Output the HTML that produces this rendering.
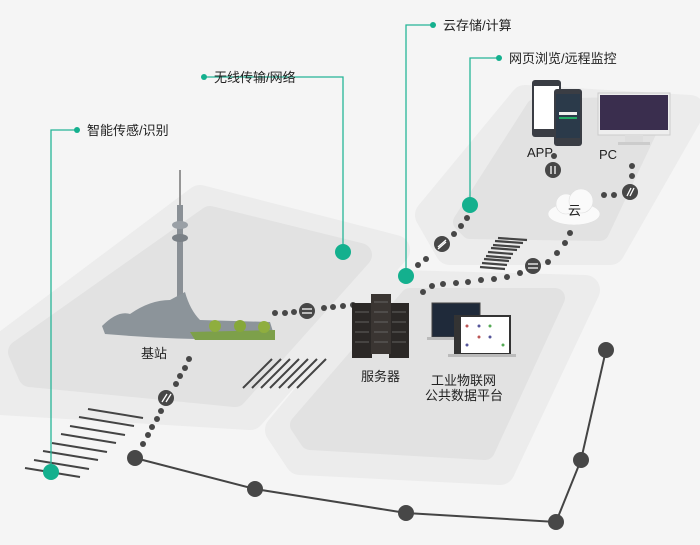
<!DOCTYPE html>
<html><head><meta charset="utf-8"><style>
html,body{margin:0;padding:0;background:#f5f5f5;}
svg{display:block;}
text{font-family:"Liberation Sans","Noto Sans CJK SC",sans-serif;fill:#222;}
</style></head><body>
<svg width="700" height="545" viewBox="0 0 700 545" xmlns="http://www.w3.org/2000/svg">
<rect width="700" height="545" fill="#f5f5f5"/>
<!-- platforms outer -->
<g stroke-linejoin="round">
<path d="M0,350 L200,200 L395,250 L250,415 L0,400 Z" fill="#ececec" stroke="#ececec" stroke-width="30"/>
<path d="M20,352 L210,218 L360,255 L235,395 L30,375 Z" fill="#e2e2e2" stroke="#e2e2e2" stroke-width="24"/>
<path d="M280,430 L400,285 L585,290 L500,470 L300,460 Z" fill="#ececec" stroke="#ececec" stroke-width="30"/>
<path d="M300,425 L410,298 L555,298 L485,450 L310,440 Z" fill="#e2e2e2" stroke="#e2e2e2" stroke-width="20"/>
<path d="M430,215 L525,100 L690,110 L610,250 L450,250 Z" fill="#ececec" stroke="#ececec" stroke-width="30"/>
<path d="M462,222 L535,108 L660,105 L600,232 L470,230 Z" fill="#e2e2e2" stroke="#e2e2e2" stroke-width="18"/>
</g>
<!-- hatches -->
<g stroke="#444" stroke-width="2">
<line x1="25" y1="468" x2="80" y2="477"/><line x1="34" y1="460" x2="89" y2="469"/>
<line x1="43" y1="451" x2="98" y2="460"/><line x1="52" y1="443" x2="107" y2="452"/>
<line x1="61" y1="434" x2="116" y2="443"/><line x1="70" y1="426" x2="125" y2="435"/>
<line x1="79" y1="417" x2="134" y2="426"/><line x1="88" y1="409" x2="143" y2="418"/>
<line x1="243" y1="388" x2="272" y2="359"/><line x1="252" y1="388" x2="281" y2="359"/>
<line x1="261" y1="388" x2="290" y2="359"/><line x1="270" y1="388" x2="299" y2="359"/>
<line x1="279" y1="388" x2="308" y2="359"/><line x1="288" y1="388" x2="317" y2="359"/>
<line x1="297" y1="388" x2="326" y2="359"/>
</g>
<g stroke="#444" stroke-width="2.2">
<line x1="480" y1="267" x2="505" y2="269"/><line x1="482" y1="263" x2="507" y2="265"/>
<line x1="484" y1="259" x2="509" y2="261"/><line x1="486" y1="256" x2="511" y2="258"/>
<line x1="488" y1="252" x2="513" y2="254"/><line x1="491" y1="248" x2="517" y2="250"/>
<line x1="493" y1="245" x2="520" y2="247"/><line x1="495" y1="241" x2="523" y2="243"/>
<line x1="498" y1="238" x2="527" y2="240"/>
</g>
<!-- grey path -->
<polyline points="135,458 255,489 406,513 556,522 581,460 606,350" fill="none" stroke="#444" stroke-width="2"/>
<g fill="#474747">
<circle cx="135" cy="458" r="8"/><circle cx="255" cy="489" r="8"/><circle cx="406" cy="513" r="8"/>
<circle cx="556" cy="522" r="8"/><circle cx="581" cy="460" r="8"/><circle cx="606" cy="350" r="8"/>
</g>
<!-- dotted connectors -->
<g fill="#474747">
<circle cx="143" cy="444" r="3"/><circle cx="148" cy="435" r="3"/><circle cx="152" cy="427" r="3"/><circle cx="157" cy="419" r="3"/><circle cx="161" cy="411" r="3"/>
<circle cx="176" cy="384" r="3"/><circle cx="180" cy="376" r="3"/><circle cx="185" cy="368" r="3"/><circle cx="189" cy="359" r="3"/>
<circle cx="166" cy="398" r="8"/>
<circle cx="275" cy="313" r="3"/><circle cx="285" cy="313" r="3"/><circle cx="294" cy="312" r="3"/>
<circle cx="324" cy="308" r="3"/><circle cx="333" cy="307" r="3"/><circle cx="343" cy="306" r="3"/><circle cx="353" cy="305" r="3"/>
<circle cx="307" cy="311" r="8"/>
<circle cx="418" cy="265" r="3"/><circle cx="426" cy="259" r="3"/>
<circle cx="454" cy="234" r="3"/><circle cx="461" cy="226" r="3"/><circle cx="467" cy="218" r="3"/>
<circle cx="442" cy="244" r="8"/>
<circle cx="423" cy="292" r="3"/><circle cx="432" cy="286" r="3"/><circle cx="443" cy="284" r="3"/><circle cx="456" cy="283" r="3"/><circle cx="468" cy="282" r="3"/><circle cx="481" cy="280" r="3"/><circle cx="494" cy="279" r="3"/><circle cx="507" cy="277" r="3"/><circle cx="520" cy="273" r="3"/>
<circle cx="548" cy="262" r="3"/><circle cx="557" cy="253" r="3"/><circle cx="565" cy="243" r="3"/><circle cx="570" cy="233" r="3"/>
<circle cx="533" cy="266" r="8"/>
<circle cx="604" cy="195" r="3"/><circle cx="614" cy="195" r="3"/><circle cx="632" cy="176" r="3"/><circle cx="632" cy="166" r="3"/>
<circle cx="630" cy="192" r="8"/>
<circle cx="554" cy="156" r="3"/><circle cx="553" cy="170" r="8"/>
</g>
<g fill="none" stroke="#fff" stroke-width="1.3">
<path d="M162,402 L167,394 M166,402 L171,394"/>
<path d="M302,309 L312,309 M302,313 L312,313"/>
<path d="M438,247 L446,240 M438,249 L446,242"/>
<path d="M528,264 L538,264 M528,268 L538,268"/>
<path d="M627,196 L631,188 M630,196 L634,188"/>
<path d="M551,166 L551,174 M555,166 L555,174"/>
</g>
<!-- cloud -->
<g fill="#fafafa" stroke="#e0e0e0" stroke-width="0.6">
<ellipse cx="574" cy="214" rx="26" ry="11"/><circle cx="566" cy="204" r="10"/><circle cx="581" cy="201" r="12"/>
</g>
<text x="568" y="215" font-size="13">云</text>
<!-- green leader lines -->
<g stroke="#26b597" stroke-width="1.3" fill="none">
<polyline points="77,130 51,130 51,472"/>
<polyline points="204,77 343,77 343,252"/>
<polyline points="433,25 406,25 406,276"/>
<polyline points="499,58 470,58 470,205"/>
</g>
<g fill="#14b08e">
<circle cx="77" cy="130" r="3"/><circle cx="51" cy="472" r="8"/>
<circle cx="204" cy="77" r="3"/><circle cx="343" cy="252" r="8"/>
<circle cx="433" cy="25" r="3"/><circle cx="406" cy="276" r="8"/>
<circle cx="499" cy="58" r="3"/><circle cx="470" cy="205" r="8"/>
</g>
<g font-size="13">
<text x="87" y="135">智能传感/识别</text>
<text x="214" y="82">无线传输/网络</text>
<text x="443" y="30">云存储/计算</text>
<text x="509" y="63">网页浏览/远程监控</text>
</g>
<!-- tower & base station -->
<g>
<line x1="180" y1="170" x2="180" y2="205" stroke="#777" stroke-width="1.5"/>
<rect x="177" y="205" width="6" height="120" fill="#8a9096"/>
<ellipse cx="180" cy="225" rx="8" ry="4" fill="#9aa0a6"/>
<ellipse cx="180" cy="238" rx="8" ry="4" fill="#7a8086"/>
<path d="M102,326 Q118,310 130,314 Q150,300 170,300 L185,292 Q190,310 200,320 L270,322 L275,338 Q200,342 105,334 Z" fill="#8c949a"/>
<path d="M190,332 L275,330 L275,340 L195,340 Z" fill="#7da04a"/>
<circle cx="215" cy="326" r="6" fill="#8fae3e"/><circle cx="240" cy="326" r="6" fill="#86a83a"/><circle cx="264" cy="327" r="6" fill="#8fae3e"/>
</g>
<text x="141" y="358" font-size="13">基站</text>
<!-- servers -->
<g>
<rect x="352" y="303" width="20" height="55" fill="#2b2826"/>
<rect x="389" y="303" width="20" height="55" fill="#2b2826"/>
<rect x="371" y="294" width="20" height="60" fill="#3a3532"/>
<g stroke="#777" stroke-width="0.7">
<line x1="355" y1="312" x2="369" y2="312"/><line x1="355" y1="322" x2="369" y2="322"/><line x1="355" y1="332" x2="369" y2="332"/><line x1="355" y1="342" x2="369" y2="342"/>
<line x1="374" y1="302" x2="388" y2="302"/><line x1="374" y1="312" x2="388" y2="312"/><line x1="374" y1="322" x2="388" y2="322"/><line x1="374" y1="332" x2="388" y2="332"/><line x1="374" y1="342" x2="388" y2="342"/>
<line x1="392" y1="312" x2="406" y2="312"/><line x1="392" y1="322" x2="406" y2="322"/><line x1="392" y1="332" x2="406" y2="332"/><line x1="392" y1="342" x2="406" y2="342"/>
</g>
</g>
<text x="361" y="381" font-size="13">服务器</text>
<!-- laptops -->
<g>
<rect x="432" y="303" width="48" height="34" fill="#1f2a3a" stroke="#444" stroke-width="1"/>
<rect x="427" y="337" width="58" height="3" fill="#bbb"/>
<rect x="455" y="316" width="55" height="38" fill="#fff" stroke="#333" stroke-width="2"/>
<rect x="455" y="316" width="6" height="38" fill="#333"/>
<rect x="448" y="354" width="68" height="3" fill="#bbb"/>
<g fill="#b55"><circle cx="467" cy="326" r="1.5"/><circle cx="479" cy="337" r="1.5"/></g>
<g fill="#5a5"><circle cx="490" cy="326" r="1.5"/><circle cx="503" cy="345" r="1.5"/></g>
<g fill="#559"><circle cx="479" cy="326" r="1.5"/><circle cx="467" cy="345" r="1.5"/><circle cx="490" cy="337" r="1.5"/></g>
</g>
<text x="431" y="385" font-size="13">工业物联网</text>
<text x="425" y="400" font-size="13">公共数据平台</text>
<!-- phones -->
<g>
<rect x="532" y="80" width="29" height="57" rx="3" fill="#3a3d44"/>
<rect x="534" y="86" width="25" height="43" fill="#fff"/>
<rect x="554" y="89" width="28" height="57" rx="3" fill="#3a3d44"/>
<rect x="556" y="94" width="24" height="44" fill="#2b3a4a"/>
<rect x="559" y="112" width="18" height="3" fill="#eee"/>
<rect x="559" y="117" width="18" height="2" fill="#2a6"/>
</g>
<text x="527" y="157" font-size="13">APP</text>
<!-- monitor -->
<g>
<rect x="598" y="93" width="72" height="42" fill="#eee" stroke="#ccc"/>
<rect x="600" y="95" width="68" height="35" fill="#3a2e4e"/>
<rect x="625" y="135" width="18" height="8" fill="#ddd"/>
<rect x="618" y="142" width="32" height="3" fill="#ccc"/>
</g>
<text x="599" y="159" font-size="13">PC</text>
</svg>
</body></html>
